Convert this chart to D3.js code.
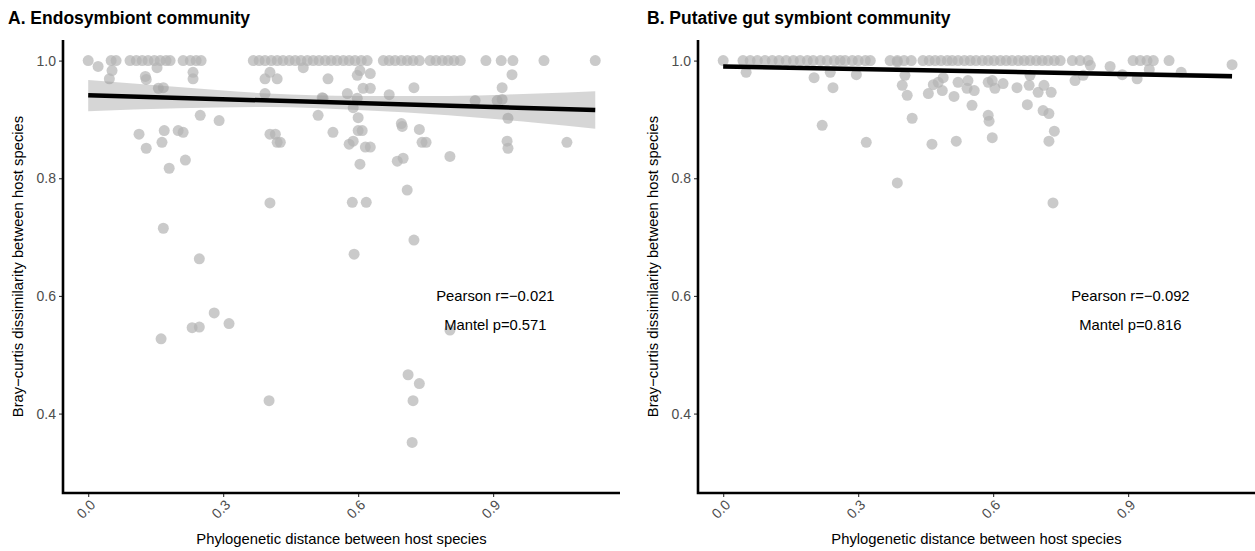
<!DOCTYPE html>
<html><head><meta charset="utf-8">
<script src="https://cdn.jsdelivr.net/npm/d3@7"></script>
<style>
body{margin:0;background:#fff;}
svg text{font-family:"Liberation Sans",Arial,sans-serif;}
</style></head>
<body><svg id="c" width="1255" height="551"></svg>
<script>
const xTicks = [0.0, 0.3, 0.6, 0.9];
const yTicks = [0.4, 0.6, 0.8, 1.0];
const titles = ["A. Endosymbiont community", "B. Putative gut symbiont community"];
const xLabel = "Phylogenetic distance between host species";
const yLabel = "Bray\u2212curtis dissimilarity between host species";
const statsA = ["Pearson r=\u22120.021", "Mantel p=0.571"];
const statsB = ["Pearson r=\u22120.092", "Mantel p=0.816"];

// Panel A points [phylo distance, bray-curtis]
const endoPoints = [
 [0.0,1],[0.051,1],[0.062,1],[0.093,1],[0.107,1],[0.12,1],[0.133,1],[0.147,1],[0.16,1],[0.173,1],[0.182,1],
 [0.211,1],[0.227,1],[0.24,1],[0.251,1],[0.367,1],[0.38,1],[0.393,1],[0.407,1],[0.42,1],[0.433,1],[0.447,1],
 [0.46,1],[0.473,1],[0.487,1],[0.5,1],[0.513,1],[0.527,1],[0.54,1],[0.553,1],[0.567,1],[0.58,1],[0.593,1],
 [0.607,1],[0.62,1],[0.656,1],[0.669,1],[0.682,1],[0.696,1],[0.709,1],[0.722,1],[0.736,1],[0.76,1],[0.773,1],
 [0.787,1],[0.8,1],[0.813,1],[0.827,1],[0.884,1],[0.918,1],[0.944,1],[1.013,1],[1.127,1],
 [0.022,0.990],[0.053,0.983],[0.047,0.969],[0.127,0.973],[0.129,0.968],[0.153,0.988],[0.156,0.953],[0.167,0.954],
 [0.233,0.980],[0.233,0.969],[0.249,0.907],[0.291,0.898],[0.113,0.875],[0.169,0.881],[0.2,0.881],[0.211,0.878],
 [0.129,0.851],[0.164,0.861],[0.216,0.831],[0.18,0.817],[0.167,0.715],[0.247,0.663],[0.28,0.571],[0.313,0.553],
 [0.231,0.546],[0.247,0.547],[0.162,0.527],[0.402,0.422],[0.404,0.758],[0.393,0.969],[0.404,0.980],[0.42,0.969],
 [0.393,0.944],[0.404,0.875],[0.416,0.875],[0.42,0.861],[0.427,0.861],[0.478,0.988],[0.533,0.969],[0.52,0.937],
 [0.511,0.907],[0.522,0.936],[0.544,0.878],[0.576,0.944],[0.598,0.975],[0.604,0.983],[0.611,0.953],[0.589,0.920],
 [0.598,0.936],[0.6,0.903],[0.6,0.881],[0.609,0.881],[0.58,0.858],[0.589,0.863],[0.616,0.853],[0.627,0.853],
 [0.604,0.824],[0.587,0.759],[0.618,0.759],[0.591,0.671],[0.627,0.978],[0.627,0.953],[0.669,0.942],[0.724,0.954],
 [0.696,0.893],[0.698,0.888],[0.736,0.883],[0.742,0.861],[0.751,0.861],[0.687,0.829],[0.7,0.834],[0.804,0.837],
 [0.709,0.780],[0.724,0.695],[0.804,0.542],[0.711,0.466],[0.736,0.451],[0.722,0.422],[0.72,0.351],[0.86,0.932],
 [0.909,0.932],[0.92,0.934],[0.942,0.976],[0.92,0.954],[0.933,0.902],[0.931,0.863],[0.933,0.851],[1.064,0.861]
];

// Panel B points
const gutPoints = [
 [0.0,1],[0.044,1],[0.06,1],[0.076,1],[0.093,1],[0.109,1],[0.124,1],[0.14,1],[0.156,1],[0.171,1],[0.187,1],
 [0.2,1],[0.216,1],[0.231,1],[0.247,1],[0.26,1],[0.271,1],[0.287,1],[0.3,1],[0.316,1],[0.327,1],[0.371,1],
 [0.387,1],[0.402,1],[0.418,1],[0.444,1],[0.458,1],[0.471,1],[0.484,1],[0.498,1],[0.509,1],[0.522,1],[0.536,1],
 [0.549,1],[0.562,1],[0.576,1],[0.589,1],[0.602,1],[0.616,1],[0.629,1],[0.642,1],[0.656,1],[0.669,1],[0.682,1],
 [0.696,1],[0.709,1],[0.722,1],[0.736,1],[0.749,1],[0.776,1],[0.793,1],[0.811,1],[0.911,1],[0.927,1],[0.942,1],
 [0.956,1],[0.991,1],[1.131,0.993],
 [0.051,0.980],[0.202,0.971],[0.238,0.980],[0.244,0.954],[0.296,0.976],[0.22,0.890],[0.318,0.861],[0.387,0.792],
 [0.387,0.998],[0.404,0.975],[0.398,0.958],[0.409,0.941],[0.42,0.902],[0.464,0.858],[0.518,0.863],[0.456,0.944],
 [0.467,0.959],[0.478,0.963],[0.487,0.949],[0.489,0.971],[0.513,0.939],[0.522,0.963],[0.544,0.966],[0.542,0.953],
 [0.558,0.949],[0.553,0.924],[0.589,0.963],[0.598,0.966],[0.604,0.953],[0.622,0.961],[0.653,0.954],[0.68,0.958],
 [0.682,0.975],[0.676,0.925],[0.7,0.946],[0.713,0.958],[0.729,0.946],[0.589,0.907],[0.591,0.897],[0.711,0.915],
 [0.724,0.910],[0.736,0.880],[0.724,0.863],[0.598,0.869],[0.733,0.758],[0.782,0.966],[0.8,0.975],[0.816,0.992],
 [0.86,0.990],[0.887,0.976],[0.92,0.969],[0.947,0.985],[1.018,0.980]
];

// fitted line with confidence band [x, fit, lower, upper]
const fitA = [[0,0.941,0.914,0.967],[0.2,0.937,0.919,0.955],[0.4,0.932,0.921,0.944],[0.6,0.928,0.916,0.940],
              [0.8,0.924,0.907,0.940],[1.0,0.919,0.894,0.944],[1.127,0.916,0.884,0.948]];
const fitB = [[0,0.990,0.9865,0.9935],[0.5,0.9833,0.9807,0.9859],[1.131,0.9735,0.969,0.978]];

const svg = d3.select("#c");
const W = 557, H = 453;

function panel(ox, tx, title, pts, fit, stats){
  const g = svg.append("g").attr("transform", `translate(${ox},40)`);
  const x = d3.scaleLinear().domain([-0.056, 1.182]).range([0, W]);
  const y = d3.scaleLinear().domain([0.265, 1.035]).range([H, 0]);

  svg.append("text").attr("x", tx).attr("y", 24).attr("font-size", 17.5).attr("font-weight", "bold")
    .attr("fill", "#000").text(title);

  g.append("g").selectAll("circle").data(pts).join("circle")
    .attr("cx", d => x(d[0])).attr("cy", d => y(d[1])).attr("r", 5.5)
    .attr("fill", "#b3b3b3").attr("fill-opacity", 0.7);

  const area = d3.area().x(d => x(d[0])).y0(d => y(d[2])).y1(d => y(d[3])).curve(d3.curveMonotoneX);
  g.append("path").datum(fit).attr("d", area).attr("fill", "#999").attr("fill-opacity", 0.4);
  const line = d3.line().x(d => x(d[0])).y(d => y(d[1]));
  g.append("path").datum([fit[0], fit[fit.length-1]]).attr("d", line).attr("stroke", "#000")
    .attr("stroke-width", 4.5).attr("fill", "none");

  // axes
  const yA = g.append("g").call(d3.axisLeft(y).tickValues(yTicks).tickFormat(d3.format(".1f")).tickSize(4).tickPadding(3));
  const xA = g.append("g").attr("transform", `translate(0,${H})`)
    .call(d3.axisBottom(x).tickValues(xTicks).tickFormat(d3.format(".1f")).tickSize(4).tickPadding(3));
  [yA, xA].forEach(a => {
    a.select(".domain").remove();
    a.selectAll(".tick line").attr("stroke", "#333").attr("stroke-width", 1.1);
    a.selectAll(".tick text").attr("fill", "#4d4d4d").attr("font-size", 14);
  });
  xA.selectAll(".tick text").attr("text-anchor", "end").attr("dy", null).attr("y", null)
    .attr("transform", "translate(5,10) rotate(-45)").attr("dominant-baseline", "middle");
  g.append("path").attr("d", `M0,0V${H}H${W}`).attr("stroke", "#000").attr("stroke-width", 2.6).attr("fill", "none");

  g.append("text").attr("x", W/2).attr("y", H + 51).attr("text-anchor", "middle").attr("font-size", 14.8)
    .attr("fill", "#000").text(xLabel);
  g.append("text").attr("transform", `translate(-40,${H/2}) rotate(-90)`).attr("text-anchor", "middle")
    .attr("font-size", 14.8).attr("fill", "#000").text(yLabel);

  g.append("text").attr("x", x(0.905)).attr("y", y(0.6) + 5).attr("text-anchor", "middle").attr("font-size", 14.8)
    .attr("fill", "#000").text(stats[0]);
  g.append("text").attr("x", x(0.905)).attr("y", y(0.55) + 5).attr("text-anchor", "middle").attr("font-size", 14.8)
    .attr("fill", "#000").text(stats[1]);
}
panel(63, 8, titles[0], endoPoints, fitA, statsA);
panel(698, 647, titles[1], gutPoints, fitB, statsB);
</script></body></html>
